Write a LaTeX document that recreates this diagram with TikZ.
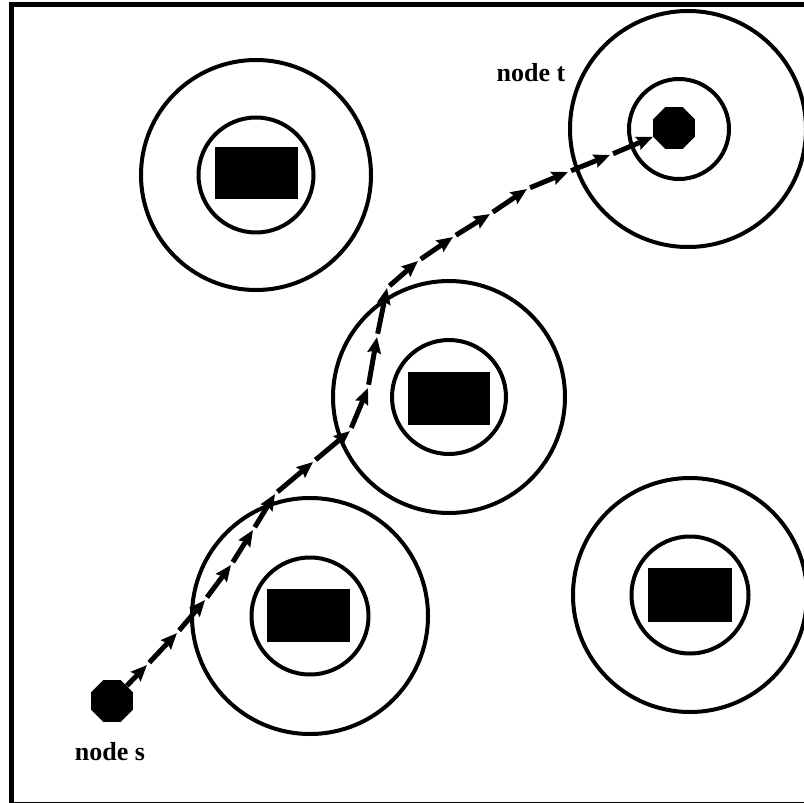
\documentclass[tikz,border=0pt]{standalone}
\usepackage{fontspec}
\setmainfont{Liberation Serif}
\usetikzlibrary{arrows.meta,shapes.geometric}

\tikzset{
  ring/.style={draw=black, line width=3pt, circle, inner sep=0pt, fill=none},
  block/.style={fill=black, draw=none},
  terminal/.style={regular polygon, regular polygon sides=8, fill=black,
    draw=none, minimum size=34pt, inner sep=0pt},
  tag/.style={font=\fontsize{19.5}{23}\selectfont\bfseries, inner sep=0pt},
  hop/.style={line width=3.75pt, shorten <=2.5pt,
    -{Stealth[length=12pt,width=10pt,inset=1.5pt]}},
  frame/.style={line width=3.75pt}
}

\begin{document}
\begin{tikzpicture}[x=0.75pt, y=-0.75pt]
  \useasboundingbox (0,0) rectangle (804,803);
  \fill[white] (0,0) rectangle (804,803);

  % outer frame (right and bottom sides run off the page)
  \draw[frame] (11.5,4.5) rectangle (808,804);

  % obstacles: a block inside two safety rings
  \node[ring, minimum size=230*0.75pt] (o1) at (256,175) {};
  \node[ring, minimum size=115*0.75pt] (i1) at (256,175) {};
  \fill[block] (215,147) rectangle (298,199);

  \node[ring, minimum size=232*0.75pt] (o2) at (449,397) {};
  \node[ring, minimum size=114*0.75pt] (i2) at (449,397) {};
  \fill[block] (408,372) rectangle (490,425);

  \node[ring, minimum size=236*0.75pt] (o3) at (310,616) {};
  \node[ring, minimum size=117*0.75pt] (i3) at (310,616) {};
  \fill[block] (267,589) rectangle (350,642);

  \node[ring, minimum size=234*0.75pt] (o4) at (690,595) {};
  \node[ring, minimum size=117*0.75pt] (i4) at (690,595) {};
  \fill[block] (648,568) rectangle (732,622);

  \node[ring, minimum size=236*0.75pt] (o5) at (688,129) {};
  \node[ring, minimum size=100*0.75pt] (i5) at (679,129) {};

  % start and goal
  \node[terminal] (s) at (112,701) {};
  \node[terminal] (t) at (674,128) {};
  \node[tag] (slabel) at (110,752) {node s};
  \node[tag] (tlabel) at (531,73) {node t};

  % waypoints of the planned route
  \coordinate (p1) at (147,665);
  \coordinate (p2) at (177,633);
  \coordinate (p3) at (205,600);
  \coordinate (p4) at (231,565);
  \coordinate (p5) at (253,530);
  \coordinate (p6) at (275,494);
  \coordinate (p7) at (313,462);
  \coordinate (p8) at (350,431);
  \coordinate (p9) at (368,388);
  \coordinate (p10) at (377,337);
  \coordinate (p11) at (387,288);
  \coordinate (p12) at (418,261);
  \coordinate (p13) at (453,237);
  \coordinate (p14) at (490,214);
  \coordinate (p15) at (527,189);
  \coordinate (p16) at (568,172);
  \coordinate (p17) at (610,155);

  % route, one arrow per hop
  \draw[hop, shorten <=0pt] (s) -- (p1);
  \foreach \a/\b in {1/2,2/3,3/4,4/5,5/6,6/7,7/8,8/9,9/10,10/11,11/12,12/13,13/14,14/15,15/16,16/17}
    \draw[hop] (p\a) -- (p\b);
  \draw[hop] (p17) -- (t);
\end{tikzpicture}
\end{document}
